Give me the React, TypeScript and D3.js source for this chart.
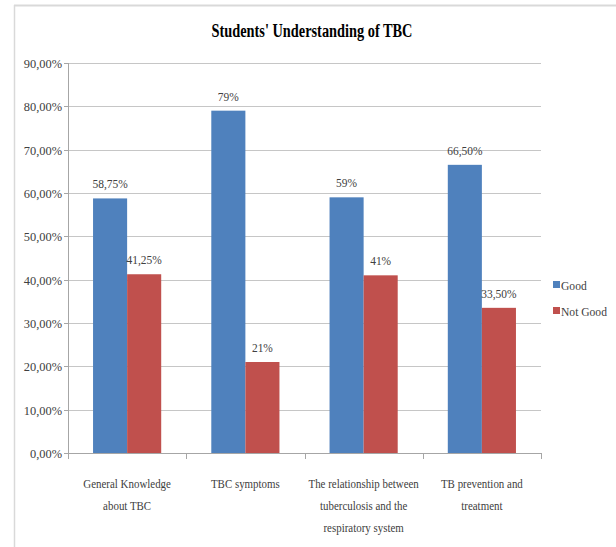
import * as d3 from "d3"
import { useEffect, useRef } from "react"

const categories = [
  ["General Knowledge", "about TBC"],
  ["TBC symptoms"],
  ["The relationship between", "tuberculosis and the", "respiratory system"],
  ["TB prevention and", "treatment"],
]
const seriesNames = ["Good", "Not Good"]
const goodValues = [58.75, 79, 59, 66.5]
const notGoodValues = [41.25, 21, 41, 33.5]
const goodLabels = ["58,75%", "79%", "59%", "66,50%"]
const notGoodLabels = ["41,25%", "21%", "41%", "33,50%"]
const yTicks = [0, 10, 20, 30, 40, 50, 60, 70, 80, 90]
const colors = ["#4F81BD", "#C0504D"]

const W = 616
const H = 547
const FONT = "Liberation Serif, Times New Roman, serif"

export default function App() {
  const svgRef = useRef<SVGSVGElement>(null)

  useEffect(() => {
    if (!svgRef.current) return
    const root = d3.select(svgRef.current)
    root.selectAll("*").remove()

    const left = 68
    const right = 541
    const top = 63
    const bottom = 453

    // chart frame (top and left edges visible)
    root.append("line").attr("x1", 14).attr("x2", W).attr("y1", 5.5).attr("y2", 5.5)
      .attr("stroke", "#d9d9d9").attr("stroke-width", 2)
    root.append("line").attr("x1", 14.5).attr("x2", 14.5).attr("y1", 5).attr("y2", H)
      .attr("stroke", "#d9d9d9").attr("stroke-width", 1.5)

    // helper: condensed text
    const txt = (x: number, y: number, s: string, size: number, sx: number, anchor: string, opts: any = {}) =>
      root.append("text")
        .attr("transform", `translate(${x},${y}) scale(${sx},1)`)
        .attr("text-anchor", anchor)
        .style("font-family", FONT)
        .style("font-size", `${size}px`)
        .style("font-weight", opts.weight || "normal")
        .attr("fill", opts.fill || "#333")
        .text(s)

    txt(312, 37, "Students' Understanding of TBC", 19, 0.755, "middle", { weight: "bold", fill: "#000" })

    const x = d3.scaleBand<number>().domain(d3.range(categories.length)).range([left, right])
    const y = d3.scaleLinear().domain([0, 90]).range([bottom, top])

    // gridlines
    root.append("g").selectAll("line").data(yTicks).join("line")
      .attr("x1", left).attr("x2", right)
      .attr("y1", (d) => Math.round(y(d)) + 0.5).attr("y2", (d) => Math.round(y(d)) + 0.5)
      .attr("stroke", "#c6c6c6").attr("stroke-width", 1)

    // y axis
    root.append("line").attr("x1", left + 0.5).attr("x2", left + 0.5).attr("y1", top).attr("y2", bottom)
      .attr("stroke", "#a6a6a6")
    yTicks.forEach((t) => {
      const yy = Math.round(y(t)) + 0.5
      root.append("line").attr("x1", left - 4).attr("x2", left).attr("y1", yy).attr("y2", yy).attr("stroke", "#a6a6a6")
      txt(62, yy + 4.5, d3.format(".2f")(t).replace(".", ",") + "%", 13.5, 0.92, "end", { fill: "#404040" })
    })

    // x axis ticks at category boundaries
    const bounds = d3.range(categories.length + 1).map((i) => left + i * x.step())
    root.append("g").selectAll("line").data(bounds).join("line")
      .attr("x1", (d) => Math.round(d) + 0.5).attr("x2", (d) => Math.round(d) + 0.5)
      .attr("y1", bottom).attr("y2", bottom + 6).attr("stroke", "#a6a6a6")
    root.append("line").attr("x1", left).attr("x2", right).attr("y1", bottom + 0.5).attr("y2", bottom + 0.5)
      .attr("stroke", "#a6a6a6")

    // bars
    const inner = d3.scaleBand<number>().domain([0, 1]).range([0, x.bandwidth()]).paddingOuter(0.735).paddingInner(0)
    const series = [goodValues, notGoodValues]
    const labels = [goodLabels, notGoodLabels]
    series.forEach((vals, si) => {
      root.append("g").selectAll("rect").data(vals).join("rect")
        .attr("x", (_d, i) => (x(i) as number) + (inner(si) as number))
        .attr("width", inner.bandwidth())
        .attr("y", (d) => y(d))
        .attr("height", (d) => bottom - y(d))
        .attr("fill", colors[si])
      vals.forEach((v, i) => {
        const cx = (x(i) as number) + (inner(si) as number) + inner.bandwidth() / 2
        txt(cx, y(v) - 10, labels[si][i], 13, 0.88, "middle", { fill: "#404040" })
      })
    })

    // category labels
    categories.forEach((lines, i) => {
      const cx = (x(i) as number) + x.bandwidth() / 2
      lines.forEach((l, li) => {
        txt(cx, 488 + li * 22, l, 13, 0.84, "middle", { fill: "#404040" })
      })
    })

    // legend
    seriesNames.forEach((name, i) => {
      const ly = 285 + i * 26
      root.append("rect").attr("x", 553).attr("y", ly - 4).attr("width", 7).attr("height", 7).attr("fill", colors[i])
      txt(561, ly + 4.5, name, 13, 0.89, "start", { fill: "#404040" })
    })
  }, [])

  return (
    <svg ref={svgRef} width={W} height={H}
      style={{ position: "absolute", left: 0, top: 0, background: "#fff" }} />
  )
}
